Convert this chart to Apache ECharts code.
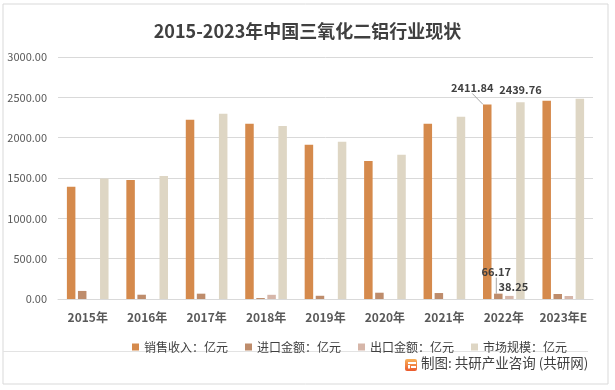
<!DOCTYPE html>
<html>
<head>
<meta charset="utf-8">
<script src="https://cdn.jsdelivr.net/npm/echarts@6/dist/echarts.min.js"></script>
<style>html,body{margin:0;padding:0;background:#fff}#c{width:615px;height:390px}</style>
</head>
<body>
<div id="c"></div>
<script>
var categories = ['2015年','2016年','2017年','2018年','2019年','2020年','2021年','2022年','2023年E'];
var salesRevenue = [1390, 1476, 2221, 2171, 1911, 1712, 2171, 2411.84, 2457];
var importValue = [100, 53, 66, 12, 40, 78, 74, 66.17, 62];
var exportValue = [0, 0, 0, 52, 0, 0, 0, 38.25, 37];
var marketSize = [1493, 1526, 2295, 2146, 1948, 1787, 2258, 2439.76, 2481];
var seriesNames = ['销售收入：亿元','进口金额：亿元','出口金额：亿元','市场规模：亿元'];
var yTicks = [0, 500, 1000, 1500, 2000, 2500, 3000];
var labeled = { 0: [7], 1: [7], 2: [7], 3: [7] };

var FONT = '"Noto Sans CJK SC", "Noto Sans", sans-serif';
var colors = ['#D58A4C', '#BE8C6B', '#D6B6A9', '#DED6C4'];
var shifts = { 0: {dx: -15, dy: -7}, 1: {dx: -2, dy: -12}, 2: {dx: 4, dy: 0}, 3: {dx: 0, dy: -3} };

function mk(idx, arr) {
  return {
    name: seriesNames[idx],
    type: 'bar',
    barWidth: 8.5,
    barGap: '30%',
    itemStyle: { color: colors[idx] },
    data: arr.map(function (v, i) {
      var o = { value: v };
      if (labeled[idx].indexOf(i) >= 0) {
        o.label = { show: true, position: 'top', distance: 4, color: '#404040', fontWeight: 'bold', fontSize: 11, fontFamily: FONT,
          formatter: function (p) { return p.value.toFixed(2); } };
      }
      return o;
    }),
    labelLine: { show: idx <= 1, lineStyle: { color: '#A6A6A6', width: 1 } },
    labelLayout: function (p) { return shifts[idx]; }
  };
}

var chart = echarts.init(document.getElementById('c'));
chart.setOption({
  animation: false,
  textStyle: { fontFamily: FONT },
  color: colors,
  title: {
    text: '2015-2023年中国三氧化二铝行业现状',
    left: 'center', top: 17,
    textStyle: { fontSize: 18, fontWeight: 'bold', color: '#404040', fontFamily: FONT }
  },
  grid: { left: 58, right: 22, top: 57, bottom: 91 },
  legend: {
    left: 127, top: 336,
    icon: 'rect', itemWidth: 7, itemHeight: 7, itemGap: 17,
    textStyle: { fontSize: 12, color: '#404040', fontFamily: FONT },
    data: seriesNames
  },
  xAxis: {
    type: 'category', data: categories,
    axisLine: { lineStyle: { color: '#D9D9D9' } },
    axisTick: { show: false },
    axisLabel: { interval: 0, color: '#595959', fontSize: 12, fontWeight: 'bold', margin: 12, fontFamily: FONT }
  },
  yAxis: {
    type: 'value', min: yTicks[0], max: yTicks[yTicks.length - 1], interval: yTicks[1] - yTicks[0],
    axisLine: { show: false }, axisTick: { show: false },
    splitLine: { lineStyle: { color: '#D9D9D9' } },
    axisLabel: { color: '#595959', fontSize: 11, margin: 11, fontFamily: FONT,
      formatter: function (v) { return v.toFixed(2); } }
  },
  graphic: [
    { type: 'rect', shape: { x: 3, y: 4, width: 605, height: 380 }, style: { fill: 'none', stroke: '#D9D9D9', lineWidth: 1 }, silent: true, z: -1 },
    { type: 'line', shape: { x1: 3, y1: 351.5, x2: 588, y2: 351.5 }, style: { stroke: '#E3E3E3', lineWidth: 1 }, silent: true },
    { type: 'rect', shape: { x: 405, y: 359, width: 12, height: 12, r: 2 },
      style: { fill: new echarts.graphic.LinearGradient(0, 0, 0, 1, [{ offset: 0, color: '#F9B25A' }, { offset: 1, color: '#EA5A2E' }]) }, silent: true },
    { type: 'rect', shape: { x: 408, y: 362, width: 8, height: 2 }, style: { fill: '#fff' }, silent: true },
    { type: 'rect', shape: { x: 408, y: 365, width: 2, height: 3.5 }, style: { fill: '#fff' }, silent: true },
    { type: 'rect', shape: { x: 411, y: 366, width: 5, height: 2 }, style: { fill: '#fff' }, silent: true },
    { type: 'text', left: 421, top: 356,
      style: { text: '制图: 共研产业咨询 (共研网)', fontSize: 13.5, fill: '#404040', fontFamily: FONT }, silent: true }
  ],
  series: [mk(0, salesRevenue), mk(1, importValue), mk(2, exportValue), mk(3, marketSize)]
});
</script>
</body>
</html>
